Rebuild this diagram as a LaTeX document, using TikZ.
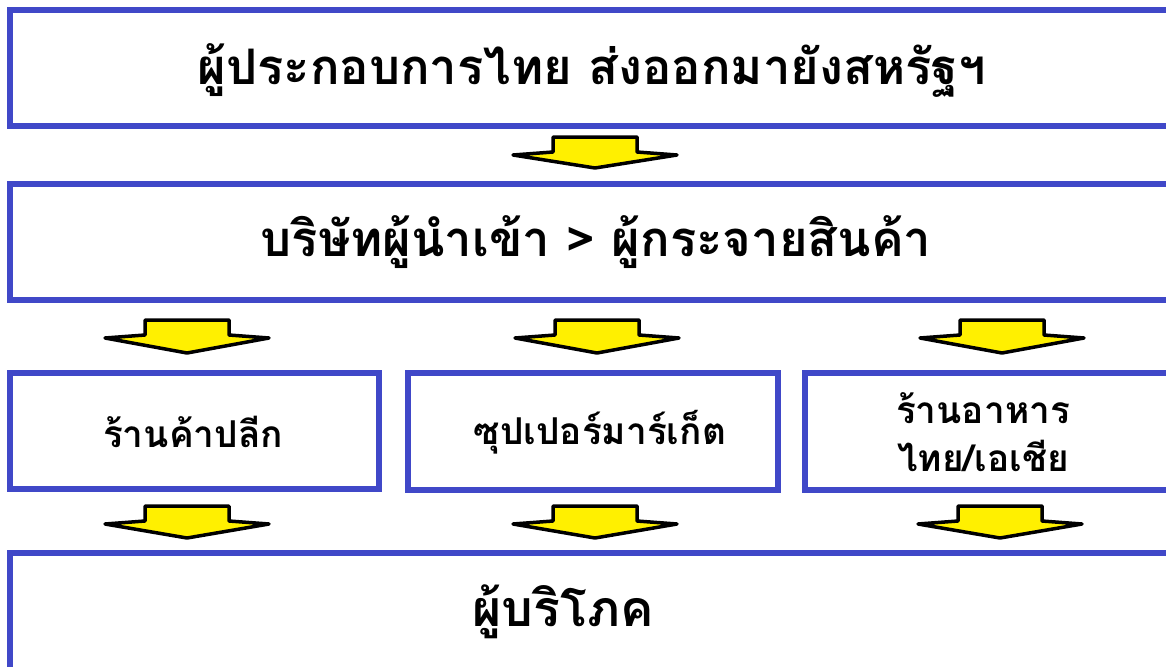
\documentclass[tikz,border=0pt]{standalone}
\usepackage{fontspec}
\newfontfamily\thaifont[Script=Thai]{Loma}
\begin{document}
\begin{tikzpicture}[x=1pt,y=-1pt,
  box/.style={draw=boxblue,line width=6pt,fill=white,inner sep=0pt,outer sep=0pt},
  lbl/.style={text=black,inner sep=0pt,align=center},
  barrow/.style={fill=arrowyellow,draw=black,line width=3.5pt,line join=round}]
\definecolor{boxblue}{RGB}{64,72,200}
\definecolor{arrowyellow}{RGB}{255,240,0}
\useasboundingbox (0,0) rectangle (1166,666);
\clip (0,0) rectangle (1166,666);
% boxes
\node[box,minimum width=1165pt,minimum height=116pt,anchor=north west] (exp) at (10,10) {};
\node[box,minimum width=1165pt,minimum height=116pt,anchor=north west] (imp) at (10,184) {};
\node[box,minimum width=369pt,minimum height=116pt,anchor=north west] (retail) at (10,373) {};
\node[box,minimum width=370pt,minimum height=117pt,anchor=north west] (super) at (408,373) {};
\node[box,minimum width=370pt,minimum height=117pt,anchor=north west] (rest) at (805,373) {};
\node[box,minimum width=1165pt,minimum height=130pt,anchor=north west] (cons) at (10,553) {};
% labels
\node[lbl,font=\thaifont\bfseries\fontsize{49}{58}\selectfont] (t1) at (592,70) {ผู้ประกอบการไทย ส่งออกมายังสหรัฐฯ};
\node[lbl,font=\thaifont\bfseries\fontsize{49}{58}\selectfont] (t2) at (596,242) {บริษัทผู้นำเข้า > ผู้กระจายสินค้า};
\node[lbl,font=\thaifont\bfseries\fontsize{37}{48}\selectfont] (t3) at (193,432) {ร้านค้าปลีก};
\node[lbl,font=\thaifont\bfseries\fontsize{37}{48}\selectfont] (t4) at (600,432) {ซุปเปอร์มาร์เก็ต};
\node[lbl,font=\thaifont\bfseries\fontsize{37}{48}\selectfont] (t5) at (983,432) {ร้านอาหาร\\ไทย/เอเชีย};
\node[lbl,font=\thaifont\bfseries\fontsize{50}{58}\selectfont] (t6) at (563,612) {ผู้บริโภค};
% block arrows
\newcommand{\blockarrow}[4]{% cx, top, shoulder, tip
  \draw[barrow] (#1-42,#2) -- (#1+42,#2) -- (#1+42,#3) -- (#1+82,#3+3) -- (#1,#4) -- (#1-82,#3+3) -- (#1-42,#3) -- cycle;}
\blockarrow{595}{137}{152}{168}
\blockarrow{187}{320}{335}{353}
\blockarrow{597}{320}{335}{353}
\blockarrow{1002}{320}{335}{353}
\blockarrow{187}{506}{521}{538}
\blockarrow{595}{506}{521}{538}
\blockarrow{1000}{506}{521}{538}
\end{tikzpicture}
\end{document}
